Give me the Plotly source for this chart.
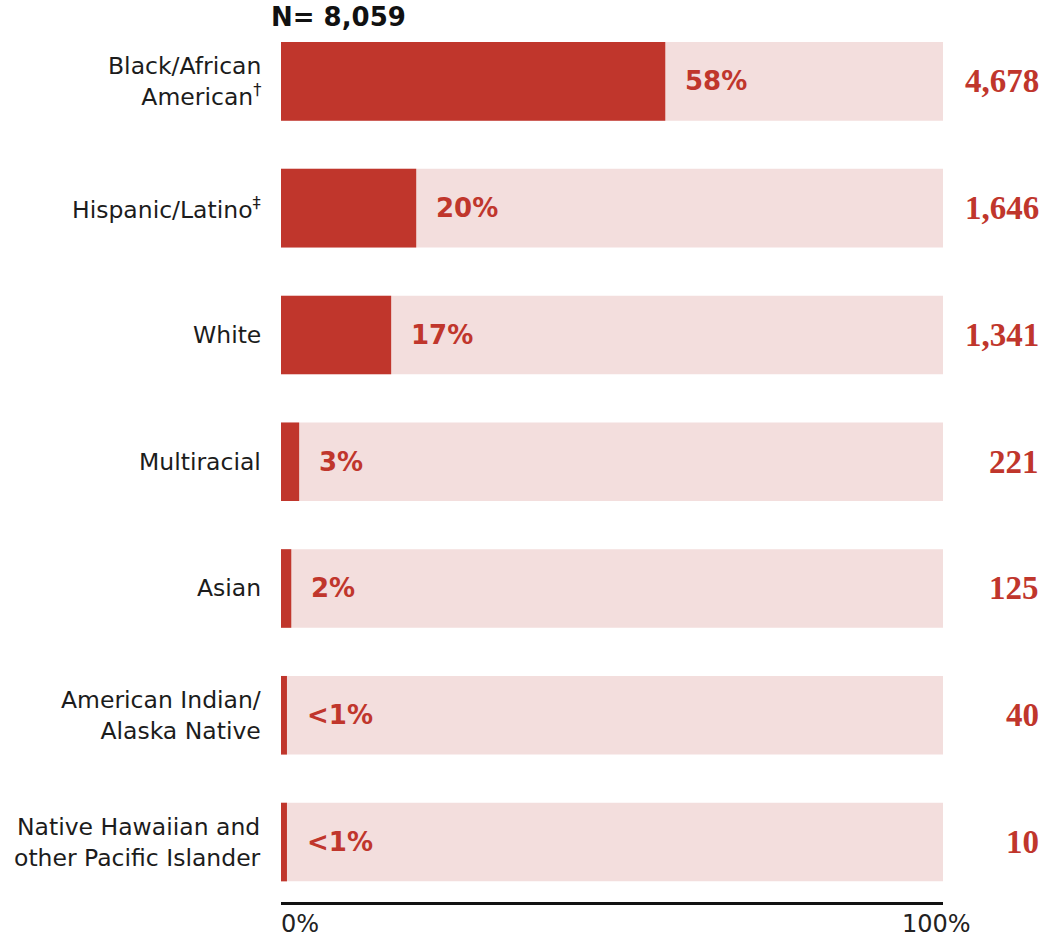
import plotly.graph_objects as go

# Race / ethnicity breakdown
groups = [
    "Black/African<br>American<sup>†</sup>",
    "Hispanic/Latino<sup>‡</sup>",
    "White",
    "Multiracial",
    "Asian",
    "American Indian/<br>Alaska Native",
    "Native Hawaiian and<br>other Pacific Islander",
]
counts = [4678, 1646, 1341, 221, 125, 40, 10]
total = 8059
pct_labels = ["58%", "20%", "17%", "3%", "2%", "<1%", "<1%"]

shares = [c / total * 100 for c in counts]
# keep very small shares visible as a thin sliver
bar_len = [max(s, 0.9) for s in shares]
ypos = list(range(len(groups)))

DARK = "#c0362c"
LIGHT = "#f3dedd"
SANS = "'DejaVu Sans', sans-serif"
SERIF = "'Liberation Serif', serif"

fig = go.Figure()
fig.add_trace(go.Bar(
    x=[100] * len(groups), y=ypos, orientation="h",
    marker=dict(color=LIGHT, line_width=0), width=0.62,
    hoverinfo="skip", showlegend=False,
))
fig.add_trace(go.Bar(
    x=bar_len, y=ypos, orientation="h",
    marker=dict(color=DARK, line_width=0), width=0.62,
    showlegend=False,
))

ann = []
for i, (g, b, p, c) in enumerate(zip(groups, bar_len, pct_labels, counts)):
    ann.append(dict(x=-0.027, xref="paper", y=i, yref="y", text=g,
                    xanchor="right", yanchor="middle", align="right",
                    showarrow=False, font=dict(family=SANS, size=23.5, color="#1c1c1c")))
    ann.append(dict(x=b, xref="x", y=i, yref="y", text=f"<b>{p}</b>",
                    xanchor="left", yanchor="middle", xshift=18,
                    showarrow=False, font=dict(family=SANS, size=26, color=DARK)))
    ann.append(dict(x=1.148, xref="paper", y=i, yref="y", text=f"<b>{c:,}</b>",
                    xanchor="right", yanchor="middle",
                    showarrow=False, font=dict(family=SERIF, size=33, color=DARK)))

ann.append(dict(x=-0.018, xref="paper", y=1.0, yref="paper", text=f"<b>N= {total:,}</b>",
                xanchor="left", yanchor="middle", yshift=1, showarrow=False,
                font=dict(family=SANS, size=26, color="#111")))
ann.append(dict(x=0, xref="x", y=0, yref="paper", text="0%", xanchor="left",
                yanchor="top", yshift=-6, xshift=-2, showarrow=False,
                font=dict(family=SANS, size=24, color="#222")))
ann.append(dict(x=100, xref="x", y=0, yref="paper", text="100%", xanchor="center",
                yanchor="top", yshift=-6, xshift=-7, showarrow=False,
                font=dict(family=SANS, size=24, color="#222")))

fig.update_layout(
    width=1046, height=943,
    margin=dict(l=281, r=103, t=18, b=41),
    paper_bgcolor="white", plot_bgcolor="white",
    barmode="overlay",
    xaxis=dict(range=[0, 100], showgrid=False, zeroline=False,
               showticklabels=False, showline=True, linecolor="#111",
               linewidth=3, fixedrange=True),
    yaxis=dict(range=[6.473, -0.5], showgrid=False, zeroline=False,
               showticklabels=False, fixedrange=True),
    annotations=ann,
)

fig.write_html("out.html")
